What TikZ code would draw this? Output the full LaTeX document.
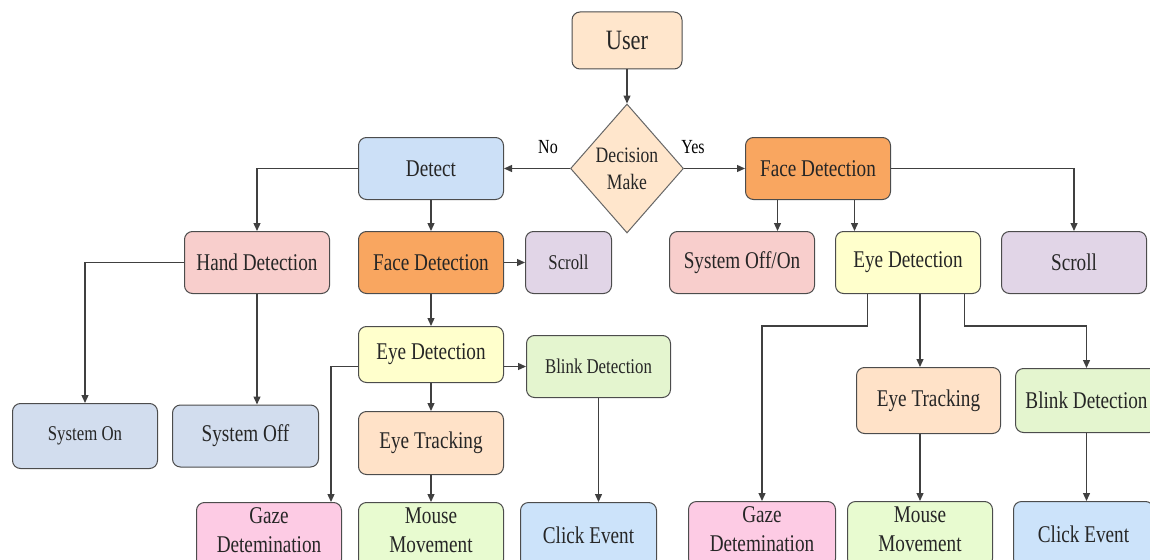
\documentclass[tikz,border=0pt]{standalone}
\usepackage{fontspec}
\setmainfont{Liberation Serif}[FakeStretch=0.8]
\usepackage{xcolor}
\usetikzlibrary{arrows.meta, positioning, shapes.geometric, calc}
\definecolor{peach}{HTML}{FFE6CC}
\definecolor{detblue}{HTML}{CCE0F7}
\definecolor{faceorange}{HTML}{F9A660}
\definecolor{handpink}{HTML}{F8CECC}
\definecolor{scrollpurple}{HTML}{E1D5E7}
\definecolor{eyeyellow}{HTML}{FFFFCC}
\definecolor{blinkgreen}{HTML}{E4F5CF}
\definecolor{trackpeach}{HTML}{FFE2C8}
\definecolor{mousegreen}{HTML}{E8FBD0}
\definecolor{gazepink}{HTML}{FDCBE4}
\definecolor{clickblue}{HTML}{CCE3FA}
\definecolor{sysblue}{HTML}{D2DDEE}
\tikzset{
	every node/.style={
		align=center,
	},
	box/.style={draw=black!70, line width=1pt, rounded corners=8pt, minimum width=145pt, minimum height=62pt, inner sep=2pt, text=black!85, font=\fontsize{24}{30}\selectfont},
	smalltext/.style={font=\fontsize{21}{26}\selectfont},
	twoline/.style={font=\fontsize{24}{29}\selectfont, text depth=9pt},
	conn/.style={draw=black!75, line width=1.3pt},
	arr/.style={conn, -{Triangle[length=8pt,width=7pt]}},
}

\begin{document}
\begin{tikzpicture}[x=1pt, y=-1pt]
    \useasboundingbox (0,0) rectangle (1150,559);

    \node (user) [box, fill=peach, minimum width=110pt, minimum height=57pt, font=\fontsize{28}{32}\selectfont] at (627,40.5) {User};
    \node (dec) [diamond, draw=black!60, line width=1pt, fill=peach, minimum width=113pt, minimum height=129pt, inner sep=0pt, text=black!85, font=\fontsize{22}{27}\selectfont, below=34pt of user] {Decision\\Make};
    \node (no) [font=\fontsize{20}{24}\selectfont] at (548,147) {No};
    \node (yes) [font=\fontsize{20}{24}\selectfont] at (693,147) {Yes};

    \node (detect) [box, fill=detblue, left=66pt of dec] {Detect};
    \node (faceR) [box, fill=faceorange, right=61pt of dec] {Face Detection};

    \node (faceM) [box, fill=faceorange, below=31pt of detect] {Face Detection};
    \node (hand) [box, fill=handpink, left=28pt of faceM] {Hand Detection};
    \node (scrollM) [box, smalltext, fill=scrollpurple, minimum width=86pt, right=21pt of faceM] {Scroll};
    \node (sysoo) [box, fill=handpink, below=31pt of faceR, xshift=-76pt] {System Off/On};
    \node (eyeR) [box, fill=eyeyellow, right=20pt of sysoo] {Eye Detection};
    \node (scrollR) [box, fill=scrollpurple, right=20pt of eyeR] {Scroll};

    \node (eyeM) [box, fill=eyeyellow, minimum height=56pt, below=32pt of faceM] {Eye Detection};
    \node (blinkM) [box, smalltext, fill=blinkgreen, minimum width=144pt, right=22pt of eyeM, yshift=-12pt] {Blink Detection};
    \node (trackM) [box, fill=trackpeach, minimum height=63pt, below=28pt of eyeM] {Eye Tracking};
    \node (mouseM) [box, twoline, fill=mousegreen, minimum height=65pt, below=27pt of trackM] {Mouse\\Movement};
    \node (gazeM) [box, twoline, fill=gazepink, minimum height=65pt, left=16pt of mouseM] {Gaze\\Detemination};
    \node (clickM) [box, fill=clickblue, minimum width=136pt, minimum height=65pt, right=16pt of mouseM] {Click Event};
    \node (sysOff) [box, fill=sysblue, minimum width=146pt, left=39pt of trackM, yshift=7pt] {System Off};
    \node (sysOn) [box, smalltext, fill=sysblue, minimum height=65pt, left=14pt of sysOff] {System On};

    \node (trackR) [box, fill=trackpeach, minimum width=144pt, minimum height=66pt, below=73pt of eyeR, xshift=20.5pt] {Eye Tracking};
    \node (blinkR) [box, fill=blinkgreen, minimum width=142pt, minimum height=64pt, right=14pt of trackR] {Blink Detection};
    \node (mouseR) [box, twoline, fill=mousegreen, minimum height=65pt, below=67pt of trackR, xshift=-8.5pt] {Mouse\\Movement};
    \node (gazeR) [box, twoline, fill=gazepink, minimum width=147pt, minimum height=65pt, left=11pt of mouseR] {Gaze\\Detemination};
    \node (clickR) [box, fill=clickblue, minimum width=140pt, minimum height=65pt, right=20pt of mouseR] {Click Event};

    \coordinate (gm) at ($(gazeM.north east)+(-11,0)$);
    \coordinate (fs1) at ($(faceR.south)+(-40.5,0)$);
    \coordinate (fs2) at ($(faceR.south)+(36.5,0)$);
    \coordinate (es1) at ($(eyeR.south)+(-40.5,0)$);
    \coordinate (es3) at ($(eyeR.south)+(56.5,0)$);

    \draw [arr] (user) -- (dec);
    \draw [arr] (dec) -- (detect);
    \draw [arr] (dec) -- (faceR);

    \draw [arr] (detect) -- (faceM);
    \draw [arr] (detect.west) -| (hand.north);
    \draw [arr] (hand.west) -| (sysOn.north);
    \draw [arr] (hand.south) -- (hand.south |- sysOff.north);
    \draw [arr] (faceM) -- (scrollM);
    \draw [arr] (faceM) -- (eyeM);
    \draw [arr] (eyeM.east |- blinkM.west) -- (blinkM.west);
    \draw [arr] (eyeM.west |- blinkM.west) -| (gm);
    \draw [arr] (eyeM) -- (trackM);
    \draw [arr] (trackM) -- (mouseM);
    \draw [arr] (blinkM.south) -- (blinkM.south |- clickM.north);

    \draw [arr] (faceR.east) -| (scrollR.north);
    \draw [arr] (fs1) -- (fs1 |- sysoo.north);
    \draw [arr] (fs2) -- (fs2 |- eyeR.north);
    \draw [arr] (es1) -- ++(0,32) -| (gazeR.north);
    \draw [arr] (eyeR.south -| mouseR) -- (trackR.north -| mouseR);
    \draw [arr] (trackR.south -| mouseR) -- (mouseR);
    \draw [arr] (es3) -- ++(0,32) -| (blinkR.north);
    \draw [arr] (blinkR.south) -- (blinkR.south |- clickR.north);

\end{tikzpicture}
\end{document}
